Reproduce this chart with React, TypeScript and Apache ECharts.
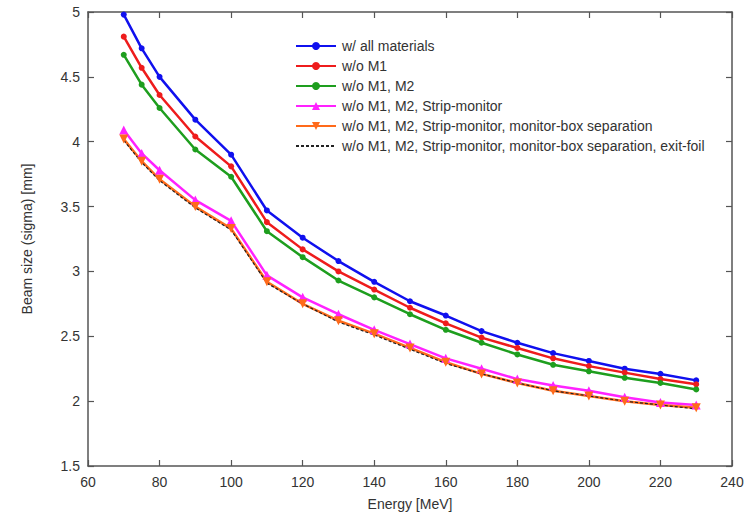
import React, { useEffect, useRef } from "react";
import * as echarts from "echarts";

const energy = [70, 75, 80, 90, 100, 110, 120, 130, 140, 150, 160, 170, 180, 190, 200, 210, 220, 230];
const allMaterials = [4.98, 4.72, 4.5, 4.17, 3.9, 3.47, 3.26, 3.08, 2.92, 2.77, 2.66, 2.54, 2.45, 2.37, 2.31, 2.25, 2.21, 2.16];
const woM1 = [4.81, 4.57, 4.36, 4.04, 3.81, 3.38, 3.17, 3.0, 2.86, 2.72, 2.6, 2.49, 2.41, 2.33, 2.27, 2.22, 2.17, 2.13];
const woM1M2 = [4.67, 4.44, 4.26, 3.94, 3.73, 3.31, 3.11, 2.93, 2.8, 2.67, 2.55, 2.45, 2.36, 2.28, 2.23, 2.18, 2.14, 2.09];
const woStrip = [4.09, 3.91, 3.78, 3.55, 3.39, 2.97, 2.8, 2.67, 2.55, 2.44, 2.33, 2.25, 2.17, 2.12, 2.08, 2.03, 1.99, 1.97];
const woBox = [4.02, 3.85, 3.71, 3.5, 3.33, 2.92, 2.75, 2.62, 2.52, 2.41, 2.3, 2.21, 2.14, 2.08, 2.04, 2.0, 1.97, 1.95];
const woFoil = [4.01, 3.84, 3.7, 3.49, 3.32, 2.91, 2.75, 2.61, 2.51, 2.4, 2.29, 2.21, 2.14, 2.08, 2.04, 2.0, 1.97, 1.94];

const seriesNames = [
  "w/ all materials",
  "w/o M1",
  "w/o M1, M2",
  "w/o M1, M2, Strip-monitor",
  "w/o M1, M2, Strip-monitor, monitor-box separation",
  "w/o M1, M2, Strip-monitor, monitor-box separation, exit-foil",
];

const FONT = "Liberation Sans, Arial, sans-serif";
const AX = "#555";

export default function App() {
  const ref = useRef<HTMLDivElement>(null);
  useEffect(() => {
    document.body.style.margin = "0";
    const chart = echarts.init(ref.current!, null, { renderer: "svg" });
    const pair = (ys: number[]) => energy.map((x, i) => [x, ys[i]]);
    const mk = (name: string, ys: number[], color: string, symbol: string, size: number, extra: any = {}) => ({
      type: "line",
      name,
      data: pair(ys),
      symbol,
      symbolSize: size,
      color,
      lineStyle: { width: 2.5, color },
      itemStyle: { color },
      ...extra,
    });
    const axisCommon = {
      axisLine: { show: true, lineStyle: { color: AX, width: 1.5 } },
      axisTick: { show: true, inside: true, length: 6, lineStyle: { color: AX, width: 1.2 } },
      splitLine: { show: false },
    };
    chart.setOption({
      animation: false,
      textStyle: { fontFamily: FONT },
      grid: { left: 88, right: 17, top: 12, bottom: 47, containLabel: false, outerBoundsMode: "none" },
      legend: {
        orient: "vertical",
        left: 290,
        top: 34,
        itemWidth: 40,
        itemHeight: 10,
        itemGap: 6,
        textStyle: { fontSize: 14, color: "#333", fontFamily: FONT, padding: [0, 0, 0, 1] },
        data: [
          ...seriesNames.slice(0, 5),
          { name: seriesNames[5], itemStyle: { opacity: 0 } },
        ],
      },
      xAxis: [
        {
          type: "value",
          min: 60,
          max: 240,
          interval: 20,
          name: "Energy [MeV]",
          nameLocation: "middle",
          nameGap: 31,
          nameTextStyle: { fontSize: 14, color: "#333" },
          axisLabel: { fontSize: 14, color: "#333", margin: 9 },
          ...axisCommon,
        },
        {
          type: "value",
          position: "top",
          min: 60,
          max: 240,
          interval: 20,
          axisLabel: { show: false },
          ...axisCommon,
        },
      ],
      yAxis: [
        {
          type: "value",
          min: 1.5,
          max: 5,
          interval: 0.5,
          name: "Beam size (sigma) [mm]",
          nameLocation: "middle",
          nameGap: 54,
          nameTextStyle: { fontSize: 14, color: "#333" },
          axisLabel: { fontSize: 14, color: "#333", margin: 8 },
          ...axisCommon,
        },
        {
          type: "value",
          position: "right",
          min: 1.5,
          max: 5,
          interval: 0.5,
          axisLabel: { show: false },
          ...axisCommon,
        },
      ],
      series: [
        mk(seriesNames[0], allMaterials, "#1010ee", "circle", 6),
        mk(seriesNames[1], woM1, "#ee1c1c", "circle", 6),
        mk(seriesNames[2], woM1M2, "#1e9e1e", "circle", 6),
        mk(seriesNames[3], woStrip, "#ff22ff", "triangle", 9),
        mk(seriesNames[4], woBox, "#ff6a1a", "triangle", 9, { symbolRotate: 180 }),
        {
          type: "line",
          name: seriesNames[5],
          data: pair(woFoil),
          symbol: "none",
          color: "#222",
          lineStyle: { width: 1.2, color: "#222", type: [3, 2] },
        },
      ],
    });
    return () => chart.dispose();
  }, []);
  return <div ref={ref} style={{ width: 749, height: 513 }} />;
}
